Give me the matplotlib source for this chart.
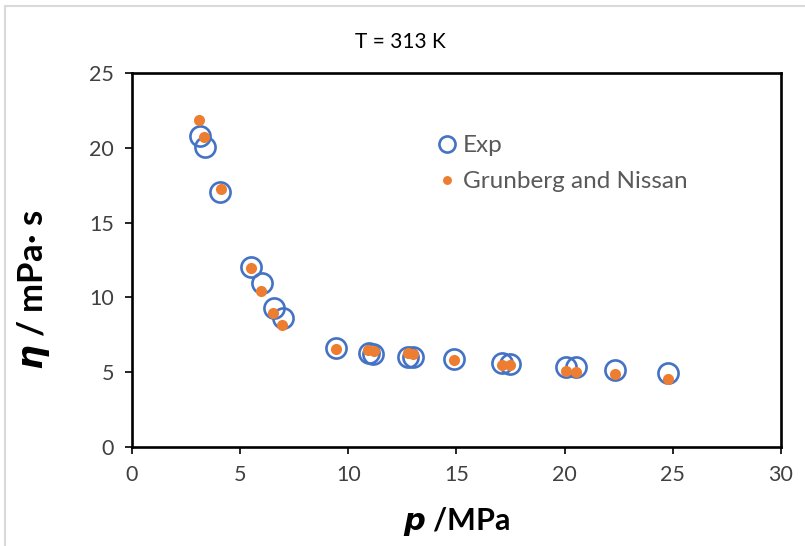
import matplotlib
matplotlib.use('Agg')
import matplotlib.pyplot as plt
from matplotlib.patches import Rectangle

plt.rcParams['font.family'] = ['Lato', 'DejaVu Sans']
plt.rcParams['mathtext.fontset'] = 'dejavusans'

# 實驗數據 (p / MPa, eta / mPa·s)
p_exp = [3.14, 3.37, 4.07, 5.52, 6.01, 6.57, 6.98, 9.43, 10.97, 11.12,
         12.78, 13.01, 14.89, 17.09, 17.48, 20.06, 20.55, 22.33, 24.79]
eta_exp = [20.8, 20.05, 17.05, 12.05, 10.98, 9.3, 8.65, 6.64, 6.3, 6.2,
           6.04, 6.0, 5.86, 5.64, 5.55, 5.33, 5.37, 5.15, 4.98]

# Grunberg and Nissan 模型
p_gn = [3.10, 3.33, 4.10, 5.49, 5.98, 6.53, 6.95, 9.43, 10.93, 11.19,
        12.78, 13.01, 14.89, 17.09, 17.48, 20.06, 20.55, 22.33, 24.79]
eta_gn = [21.86, 20.74, 17.25, 11.97, 10.45, 8.98, 8.15, 6.53, 6.48, 6.42,
          6.26, 6.22, 5.82, 5.48, 5.48, 5.10, 5.03, 4.86, 4.55]

x_ticks = [0, 5, 10, 15, 20, 25, 30]
y_ticks = [0, 5, 10, 15, 20, 25]

fig = plt.figure(figsize=(8.05, 5.46), dpi=100)
ax = fig.add_axes([0.164, 0.1813, 0.806, 0.685])

ax.plot(p_exp, eta_exp, 'o', ms=14.5, mfc='none', mec='#4472C4', mew=1.9,
        label='Exp', zorder=3)
ax.plot(p_gn, eta_gn, 'o', ms=8, color='#ED7D31', mec='none',
        label='Grunberg and Nissan', zorder=4)

ax.set_xlim(0, 30)
ax.set_ylim(0, 25)
ax.set_xticks(x_ticks)
ax.set_yticks(y_ticks)
ax.tick_params(direction='out', length=5, width=1.2, labelsize=15.5,
               labelcolor='#404040', pad=8)
for s in ax.spines.values():
    s.set_linewidth(1.9)

ax.set_xlabel(r'$\mathbfit{p}$ /MPa', fontsize=22, fontweight='bold', labelpad=14)
ax.set_ylabel(r'$\mathbfit{\eta}$ / mPa· s', fontsize=25, fontweight='bold')
ax.yaxis.set_label_coords(-0.124, 0.42)
fig.text(0.497, 0.923, 'T = 313 K', ha='center', va='center', fontsize=15)

leg = ax.legend(loc='upper left', bbox_to_anchor=(0.467, 0.833), frameon=False,
                fontsize=17.5, handletextpad=0.15, labelspacing=0.6,
                handlelength=1.0, markerscale=0.8, borderpad=0, borderaxespad=0)
for t in leg.get_texts():
    t.set_color('#595959')

# 外框
fig.patches.append(Rectangle((0.006, -0.1), 1.1, 1.089, transform=fig.transFigure,
                             fill=False, ec='#D9D9D9', lw=1.5))

plt.savefig('out.png', dpi=100)
